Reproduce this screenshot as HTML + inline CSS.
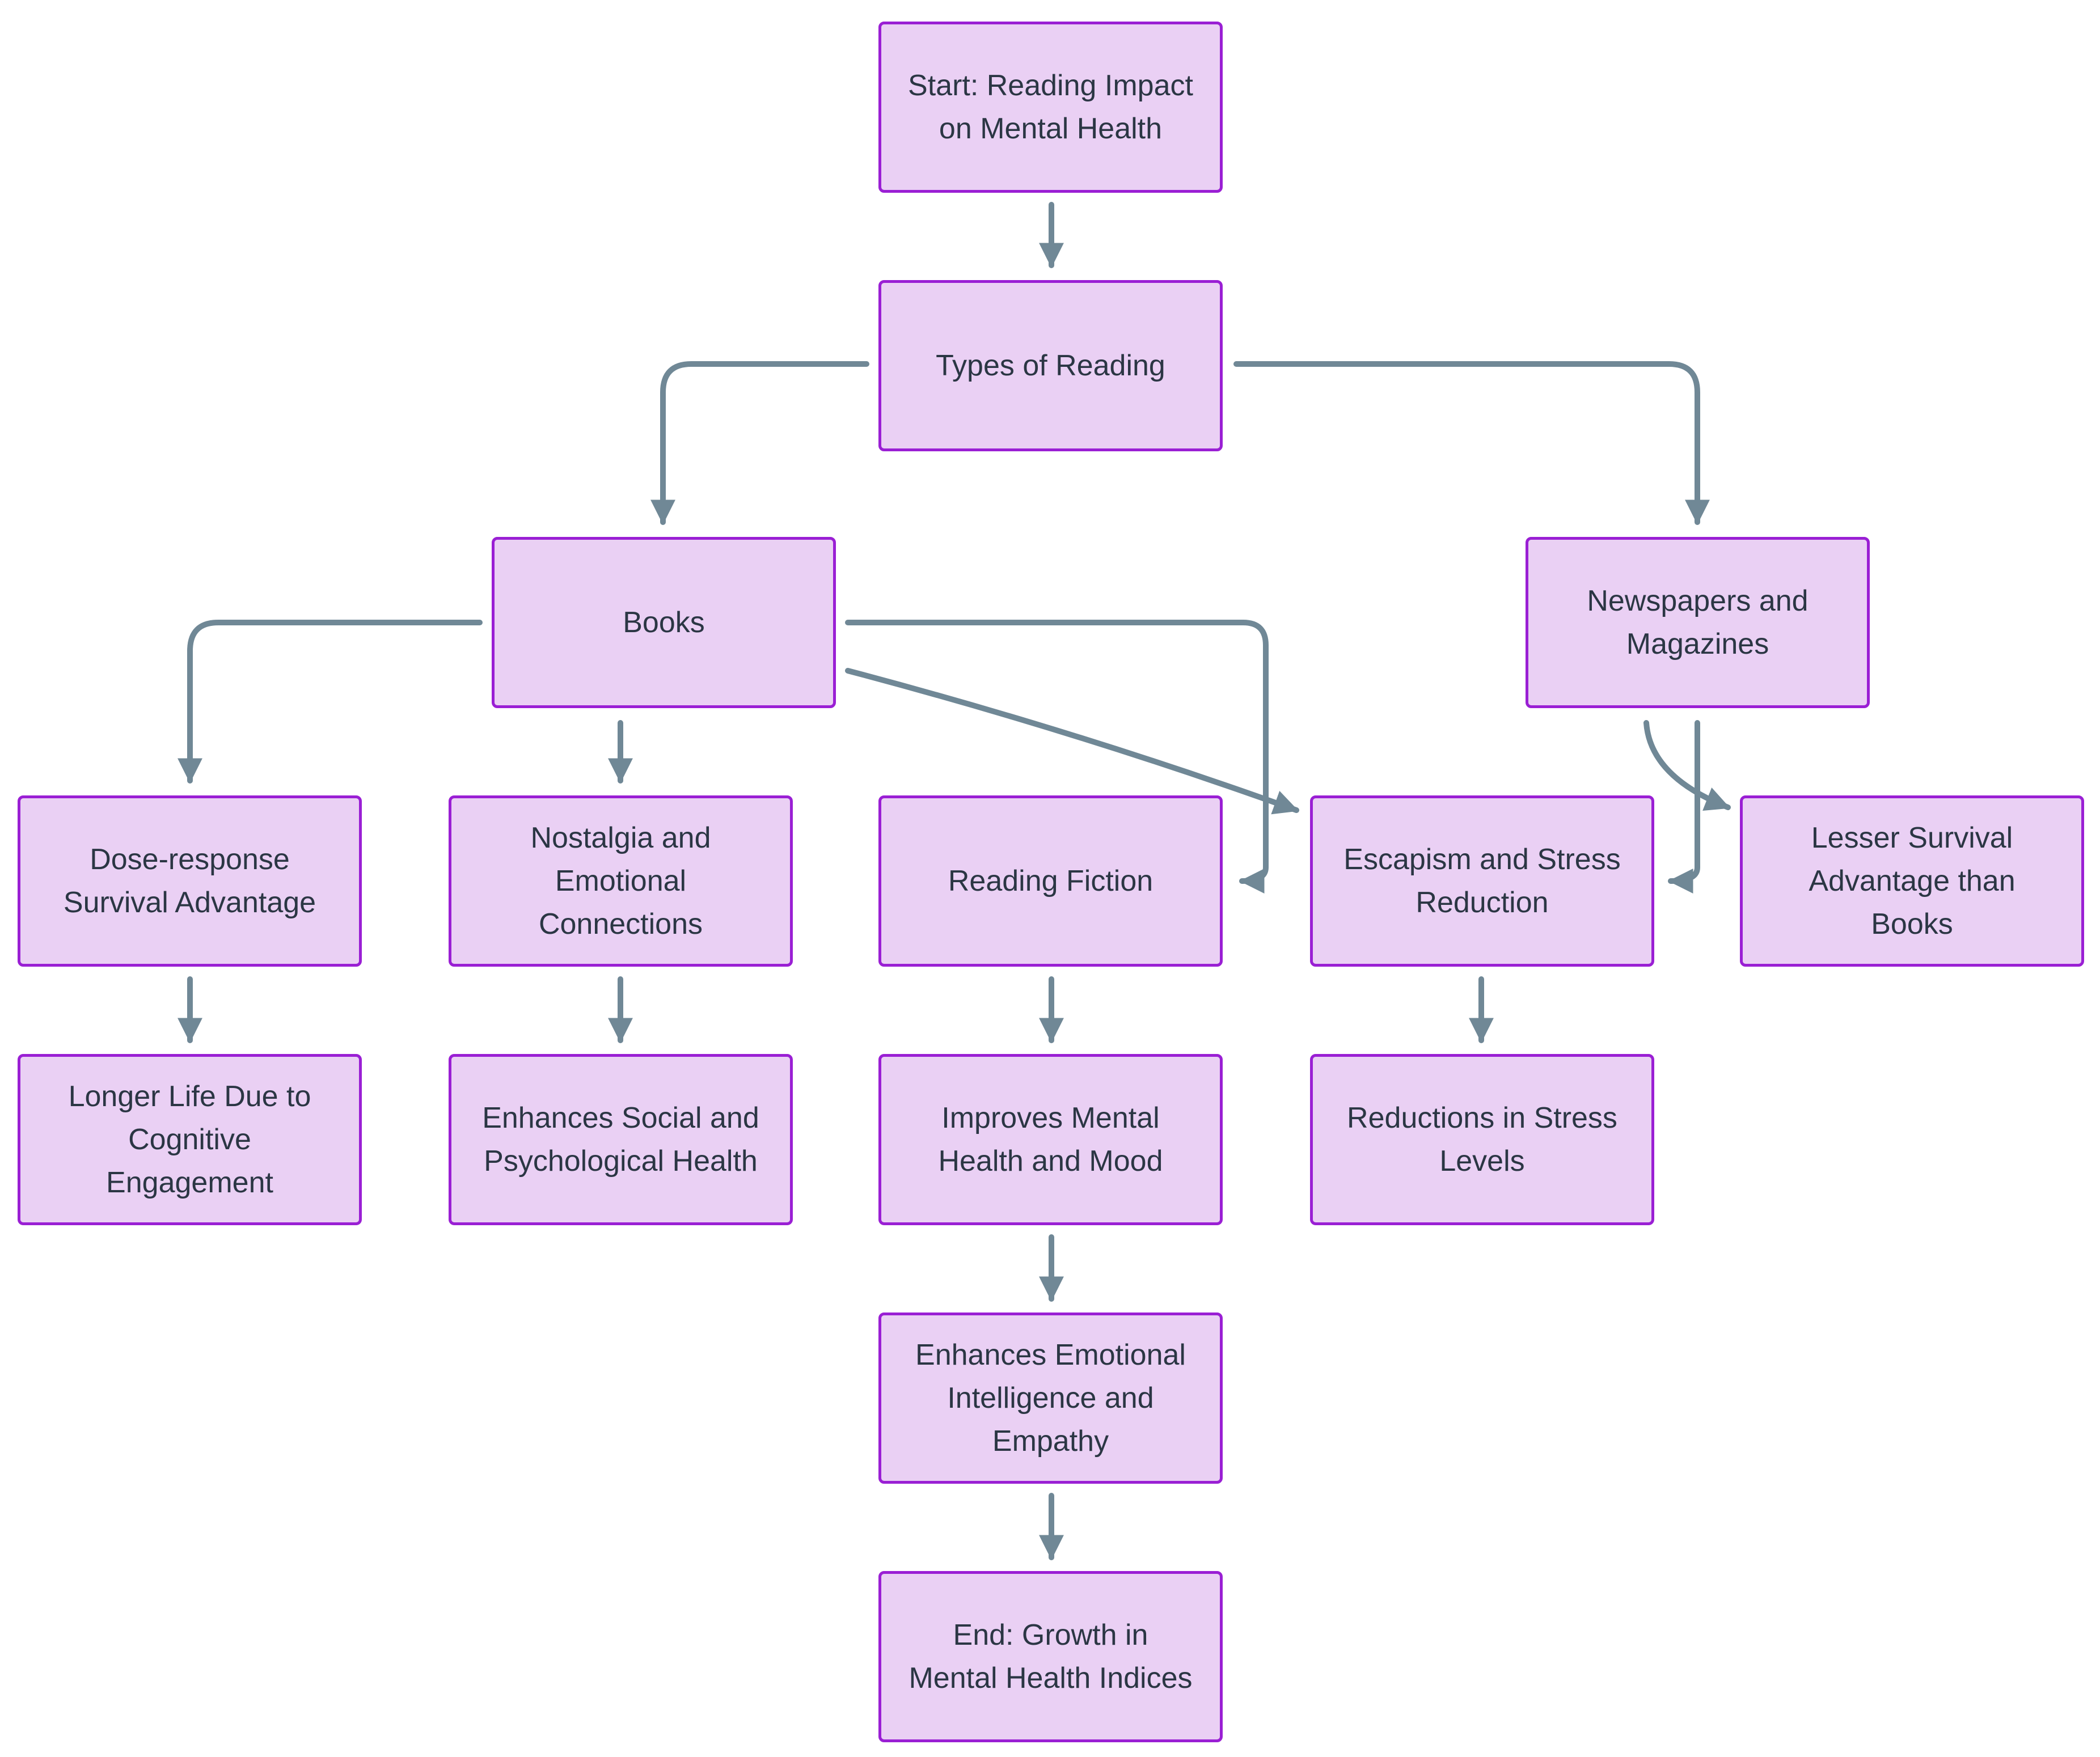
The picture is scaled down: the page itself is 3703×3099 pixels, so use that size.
<!DOCTYPE html>
<html><head><meta charset="utf-8"><style>
body{margin:0;width:3703px;height:3099px;background:#fff;position:relative;overflow:hidden;font-family:"Liberation Sans",sans-serif;}
.b{position:absolute;width:597px;height:292px;border:5px solid #9a1fd4;border-radius:10px;background:#ead0f4;display:flex;align-items:center;justify-content:center;text-align:center;color:#2b3644;font-size:52px;line-height:76px;}
svg{position:absolute;left:0;top:0;}
</style></head><body>
<svg width="3703" height="3099" viewBox="0 0 3703 3099">
<defs><marker id="a" viewBox="0 0 10 10" refX="9" refY="5" markerWidth="44" markerHeight="44" markerUnits="userSpaceOnUse" orient="auto"><path d="M0,0 L10,5 L0,10 z" fill="#708896"/></marker></defs>
<g fill="none" stroke="#708896" stroke-width="10" stroke-linecap="round" marker-end="url(#a)">
<path d="M1854 361 V468"/>
<path d="M1528 642 H1219 Q1169 642 1169 692 V921"/>
<path d="M2180 642 H2943 Q2993 642 2993 692 V921"/>
<path d="M846 1098 H385 Q335 1098 335 1148 V1377"/>
<path d="M1094 1275 V1377"/>
<path d="M1495 1098 H2192 Q2232 1098 2232 1138 V1530 Q2232 1554 2190 1554"/>
<path d="M1495 1183 Q1900 1290 2286 1429"/>
<path d="M2993 1275 V1530 Q2993 1554 2946 1554"/>
<path d="M2903 1275 Q2910 1370 3047 1424"/>
<path d="M335 1727 V1835"/>
<path d="M1094 1727 V1835"/>
<path d="M1854 1727 V1835"/>
<path d="M2612 1727 V1835"/>
<path d="M1854 2182 V2291"/>
<path d="M1854 2638 V2747"/>
</g></svg>
<div class="b" style="left:1549px;top:38px">Start: Reading Impact<br>on Mental Health</div>
<div class="b" style="left:1549px;top:494px">Types of Reading</div>
<div class="b" style="left:867px;top:947px">Books</div>
<div class="b" style="left:2690px;top:947px">Newspapers and<br>Magazines</div>
<div class="b" style="left:31px;top:1403px">Dose-response<br>Survival Advantage</div>
<div class="b" style="left:791px;top:1403px">Nostalgia and<br>Emotional<br>Connections</div>
<div class="b" style="left:1549px;top:1403px">Reading Fiction</div>
<div class="b" style="left:2310px;top:1403px">Escapism and Stress<br>Reduction</div>
<div class="b" style="left:3068px;top:1403px">Lesser Survival<br>Advantage than<br>Books</div>
<div class="b" style="left:31px;top:1859px">Longer Life Due to<br>Cognitive<br>Engagement</div>
<div class="b" style="left:791px;top:1859px">Enhances Social and<br>Psychological Health</div>
<div class="b" style="left:1549px;top:1859px">Improves Mental<br>Health and Mood</div>
<div class="b" style="left:2310px;top:1859px">Reductions in Stress<br>Levels</div>
<div class="b" style="left:1549px;top:2315px">Enhances Emotional<br>Intelligence and<br>Empathy</div>
<div class="b" style="left:1549px;top:2771px">End: Growth in<br>Mental Health Indices</div>
</body></html>
